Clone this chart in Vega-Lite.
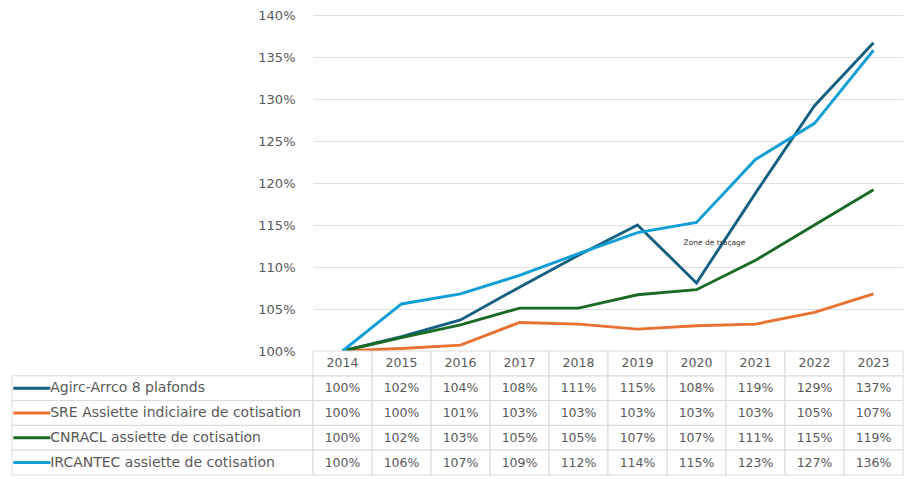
{
  "$schema": "https://vega.github.io/schema/vega-lite/v6.json",
  "padding": {"left": 7, "top": 9, "right": 6, "bottom": 3},
  "config": {"view": {"stroke": null}, "font": "DejaVu Sans"},
  "datasets": {
    "main": [
      {"series": "Agirc-Arrco 8 plafonds", "year": "2014", "value": 1.0},
      {"series": "Agirc-Arrco 8 plafonds", "year": "2015", "value": 1.017},
      {"series": "Agirc-Arrco 8 plafonds", "year": "2016", "value": 1.037},
      {"series": "Agirc-Arrco 8 plafonds", "year": "2017", "value": 1.076},
      {"series": "Agirc-Arrco 8 plafonds", "year": "2018", "value": 1.114},
      {"series": "Agirc-Arrco 8 plafonds", "year": "2019", "value": 1.150},
      {"series": "Agirc-Arrco 8 plafonds", "year": "2020", "value": 1.081},
      {"series": "Agirc-Arrco 8 plafonds", "year": "2021", "value": 1.188},
      {"series": "Agirc-Arrco 8 plafonds", "year": "2022", "value": 1.292},
      {"series": "Agirc-Arrco 8 plafonds", "year": "2023", "value": 1.367},
      {"series": "SRE Assiette indiciaire de cotisation", "year": "2014", "value": 1.0},
      {"series": "SRE Assiette indiciaire de cotisation", "year": "2015", "value": 1.003},
      {"series": "SRE Assiette indiciaire de cotisation", "year": "2016", "value": 1.007},
      {"series": "SRE Assiette indiciaire de cotisation", "year": "2017", "value": 1.034},
      {"series": "SRE Assiette indiciaire de cotisation", "year": "2018", "value": 1.032},
      {"series": "SRE Assiette indiciaire de cotisation", "year": "2019", "value": 1.026},
      {"series": "SRE Assiette indiciaire de cotisation", "year": "2020", "value": 1.030},
      {"series": "SRE Assiette indiciaire de cotisation", "year": "2021", "value": 1.032},
      {"series": "SRE Assiette indiciaire de cotisation", "year": "2022", "value": 1.046},
      {"series": "SRE Assiette indiciaire de cotisation", "year": "2023", "value": 1.068},
      {"series": "CNRACL assiette de cotisation", "year": "2014", "value": 1.0},
      {"series": "CNRACL assiette de cotisation", "year": "2015", "value": 1.016},
      {"series": "CNRACL assiette de cotisation", "year": "2016", "value": 1.031},
      {"series": "CNRACL assiette de cotisation", "year": "2017", "value": 1.051},
      {"series": "CNRACL assiette de cotisation", "year": "2018", "value": 1.051},
      {"series": "CNRACL assiette de cotisation", "year": "2019", "value": 1.067},
      {"series": "CNRACL assiette de cotisation", "year": "2020", "value": 1.073},
      {"series": "CNRACL assiette de cotisation", "year": "2021", "value": 1.108},
      {"series": "CNRACL assiette de cotisation", "year": "2022", "value": 1.150},
      {"series": "CNRACL assiette de cotisation", "year": "2023", "value": 1.192},
      {"series": "IRCANTEC assiette de cotisation", "year": "2014", "value": 1.0},
      {"series": "IRCANTEC assiette de cotisation", "year": "2015", "value": 1.056},
      {"series": "IRCANTEC assiette de cotisation", "year": "2016", "value": 1.068},
      {"series": "IRCANTEC assiette de cotisation", "year": "2017", "value": 1.090},
      {"series": "IRCANTEC assiette de cotisation", "year": "2018", "value": 1.116},
      {"series": "IRCANTEC assiette de cotisation", "year": "2019", "value": 1.141},
      {"series": "IRCANTEC assiette de cotisation", "year": "2020", "value": 1.153},
      {"series": "IRCANTEC assiette de cotisation", "year": "2021", "value": 1.228},
      {"series": "IRCANTEC assiette de cotisation", "year": "2022", "value": 1.271},
      {"series": "IRCANTEC assiette de cotisation", "year": "2023", "value": 1.358}
    ]
  },
  "columns": 2,
  "spacing": 0,
  "bounds": "flush",
  "concat": [
    {
      "width": 301,
      "height": 336,
      "data": {"name": "main"},
      "mark": {"type": "text"},
      "encoding": {"text": {"value": ""}}
    },
    {
      "width": 590,
      "height": 336,
      "layer": [
        {
          "data": {"name": "main"},
          "mark": {"type": "line", "strokeWidth": 2.9},
          "encoding": {
            "x": {"field": "year", "type": "ordinal", "axis": null},
            "y": {
              "field": "value",
              "type": "quantitative",
              "scale": {"domain": [1, 1.4], "zero": false},
              "axis": {
                "values": [1, 1.05, 1.1, 1.15, 1.2, 1.25, 1.3, 1.35, 1.4],
                "format": ".0%",
                "grid": true,
                "gridColor": "#e0e0e0",
                "domain": false,
                "ticks": false,
                "labelPadding": 18,
                "labelFontSize": 13,
                "labelColor": "#595959",
                "title": null
              }
            },
            "color": {
              "field": "series",
              "type": "nominal",
              "scale": {
                "domain": ["Agirc-Arrco 8 plafonds", "SRE Assiette indiciaire de cotisation", "CNRACL assiette de cotisation", "IRCANTEC assiette de cotisation"],
                "range": ["#156082", "#E97132", "#196B24", "#0F9ED5"]
              },
              "legend": null
            }
          }
        },
        {
          "data": {"values": [{"label": "Zone de traçage"}]},
          "mark": {"type": "text", "fontSize": 7.5, "dx": 18, "color": "#333333"},
          "encoding": {
            "x": {"datum": "2020"},
            "y": {"datum": 1.1285},
            "text": {"field": "label"}
          }
        }
      ]
    },
    {
      "width": 301,
      "height": 124,
      "data": {"name": "main"},
      "transform": [{"filter": "datum.year === '2014'"}],
      "encoding": {
        "y": {
          "field": "series",
          "type": "nominal",
          "scale": {
            "domain": ["Année", "Agirc-Arrco 8 plafonds", "SRE Assiette indiciaire de cotisation", "CNRACL assiette de cotisation", "IRCANTEC assiette de cotisation"],
            "paddingInner": 0,
            "paddingOuter": 0
          },
          "axis": null
        }
      },
      "layer": [
        {
          "mark": {"type": "rect", "fill": "white", "stroke": "#d9d9d9", "strokeWidth": 1},
          "encoding": {
            "x": {"datum": 0, "type": "quantitative", "scale": {"domain": [0, 1]}, "axis": null},
            "x2": {"datum": 1}
          }
        },
        {
          "mark": {"type": "point", "shape": "M-1,0L1,0", "size": 1369, "strokeWidth": 3, "filled": false, "opacity": 1},
          "encoding": {
            "x": {"datum": 0.066, "type": "quantitative"},
            "color": {
              "field": "series",
              "type": "nominal",
              "scale": {
                "domain": ["Agirc-Arrco 8 plafonds", "SRE Assiette indiciaire de cotisation", "CNRACL assiette de cotisation", "IRCANTEC assiette de cotisation"],
                "range": ["#156082", "#E97132", "#196B24", "#0F9ED5"]
              },
              "legend": null
            }
          }
        },
        {
          "mark": {"type": "text", "align": "left", "fontSize": 14, "color": "#595959"},
          "encoding": {
            "x": {"datum": 0.127, "type": "quantitative"},
            "text": {"field": "series"}
          }
        }
      ]
    },
    {
      "width": 590,
      "height": 124,
      "data": {"name": "main"},
      "encoding": {
        "x": {"field": "year", "type": "ordinal", "scale": {"type": "band", "paddingInner": 0, "paddingOuter": 0}, "axis": null}
      },
      "layer": [
        {
          "mark": {"type": "rect", "fill": "white", "stroke": "#d9d9d9", "strokeWidth": 1},
          "encoding": {
            "y": {
              "field": "series",
              "type": "nominal",
              "scale": {
                "domain": ["Année", "Agirc-Arrco 8 plafonds", "SRE Assiette indiciaire de cotisation", "CNRACL assiette de cotisation", "IRCANTEC assiette de cotisation"],
                "paddingInner": 0,
                "paddingOuter": 0
              },
              "axis": null
            }
          }
        },
        {
          "transform": [{"filter": "datum.series === 'Agirc-Arrco 8 plafonds'"}],
          "mark": {"type": "rect", "fill": "white", "stroke": "#d9d9d9", "strokeWidth": 1},
          "encoding": {"y": {"datum": "Année"}}
        },
        {
          "mark": {"type": "text", "fontSize": 12.5, "color": "#595959"},
          "encoding": {
            "y": {"field": "series", "type": "nominal"},
            "text": {"field": "value", "type": "quantitative", "format": ".0%"}
          }
        },
        {
          "transform": [{"filter": "datum.series === 'Agirc-Arrco 8 plafonds'"}],
          "mark": {"type": "text", "fontSize": 12.5, "color": "#595959"},
          "encoding": {
            "y": {"datum": "Année"},
            "text": {"field": "year"}
          }
        }
      ]
    }
  ]
}
